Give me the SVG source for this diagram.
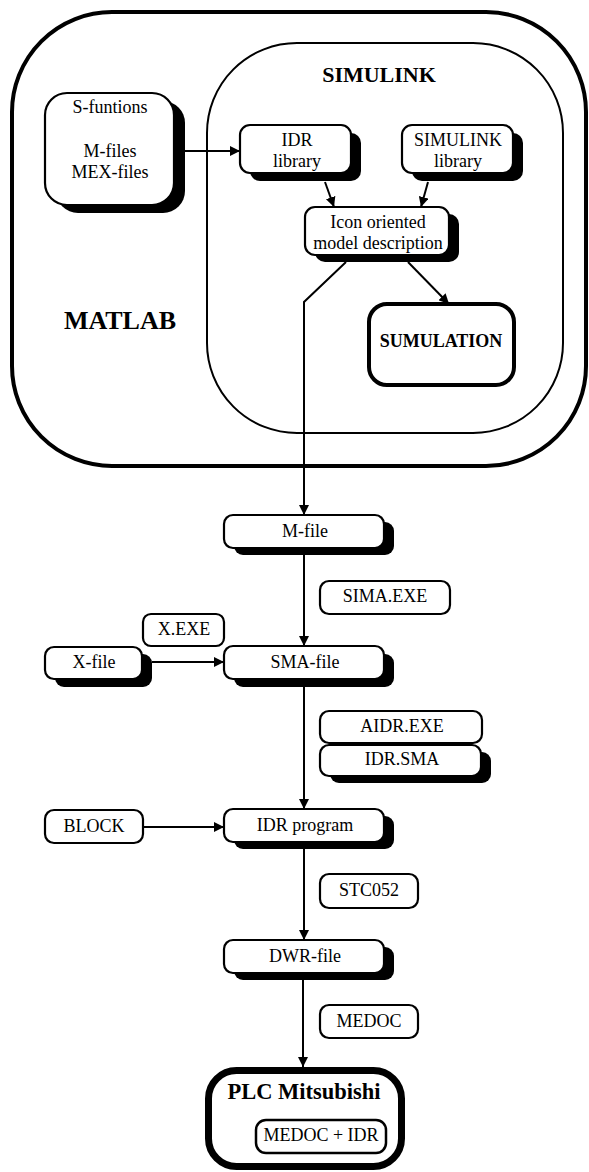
<svg xmlns="http://www.w3.org/2000/svg" width="589" height="1172" viewBox="0 0 589 1172" font-family="Liberation Serif, serif">
<style>
text{fill:#000;text-anchor:middle}
.t{font-size:18px}
.b{font-weight:bold}
.box{fill:#fff;stroke:#000;stroke-width:2.2}
.sh{fill:#000;stroke:none}
.con{fill:none;stroke:#000;stroke-width:2}
</style>
<defs>
<marker id="arr" viewBox="0 0 10 10" refX="10" refY="5" markerUnits="userSpaceOnUse" markerWidth="10" markerHeight="10" orient="auto">
<path d="M0,0 L10,5 L0,10 z" fill="#000"/>
</marker>
</defs>
<rect width="589" height="1172" fill="#fff"/>

<g id="matlab">
<rect x="12" y="12" width="574" height="454" rx="100" ry="100" fill="none" stroke="#000" stroke-width="4"/>
<text class="b" x="120" y="329" font-size="26" font-family="Liberation Serif">MATLAB</text>
</g>

<g id="simulink">
<rect x="207" y="43" width="356" height="390" rx="90" ry="90" fill="none" stroke="#000" stroke-width="2"/>
<text class="b" x="379" y="82" font-size="22">SIMULINK</text>
</g>

<g id="sfunctions">
<rect class="sh" x="56" y="101" width="129" height="112" rx="22"/>
<rect class="box" x="45" y="93" width="129" height="112" rx="22"/>
<text class="t" x="110" y="113">S-funtions</text>
<text class="t" x="110" y="157">M-files</text>
<text class="t" x="110" y="178">MEX-files</text>
</g>

<g id="idrlib">
<rect class="sh" x="250" y="133" width="111" height="48" rx="10"/>
<rect class="box" x="240" y="125" width="111" height="48" rx="10"/>
<text class="t" x="297" y="146">IDR</text>
<text class="t" x="297" y="167">library</text>
</g>

<g id="simlib">
<rect class="sh" x="412" y="133" width="111" height="48" rx="10"/>
<rect class="box" x="402" y="125" width="111" height="48" rx="10"/>
<text class="t" x="458" y="146">SIMULINK</text>
<text class="t" x="458" y="167">library</text>
</g>

<g id="icon">
<rect class="sh" x="315" y="214" width="144" height="48" rx="10"/>
<rect class="box" x="305" y="207" width="144" height="48" rx="10"/>
<text class="t" x="378" y="228">Icon oriented</text>
<text class="t" x="378" y="249">model description</text>
</g>

<g id="sumulation">
<rect x="369" y="304" width="145" height="81" rx="18" fill="#fff" stroke="#000" stroke-width="4"/>
<text class="b" x="441" y="347" font-size="18">SUMULATION</text>
</g>

<g id="mfile">
<rect class="sh" x="234" y="522" width="160" height="33" rx="9"/>
<rect class="box" x="224" y="515" width="160" height="33" rx="9"/>
<text class="t" x="305" y="537">M-file</text>
</g>

<g id="simaexe">
<rect class="box" x="320" y="581" width="130" height="33" rx="9"/>
<text class="t" x="385" y="602">SIMA.EXE</text>
</g>

<g id="xexe">
<rect class="box" x="143" y="614" width="81" height="32" rx="8"/>
<text class="t" x="184" y="635">X.EXE</text>
</g>

<g id="xfile">
<rect class="sh" x="55" y="654" width="97" height="33" rx="9"/>
<rect class="box" x="45" y="647" width="97" height="32" rx="9"/>
<text class="t" x="94" y="668">X-file</text>
</g>

<g id="smafile">
<rect class="sh" x="234" y="654" width="160" height="33" rx="9"/>
<rect class="box" x="224" y="646" width="160" height="33" rx="9"/>
<text class="t" x="305" y="668">SMA-file</text>
</g>

<g id="aidrexe">
<rect class="box" x="320" y="711" width="162" height="32" rx="9"/>
<text class="t" x="402" y="732">AIDR.EXE</text>
</g>

<g id="idrsma">
<rect class="sh" x="330" y="752" width="161" height="31" rx="9"/>
<rect class="box" x="320" y="745" width="161" height="31" rx="9"/>
<text class="t" x="402" y="765">IDR.SMA</text>
</g>

<g id="block">
<rect class="box" x="45" y="810" width="98" height="33" rx="9"/>
<text class="t" x="94" y="832">BLOCK</text>
</g>

<g id="idrprogram">
<rect class="sh" x="234" y="816" width="160" height="33" rx="9"/>
<rect class="box" x="224" y="809" width="160" height="33" rx="9"/>
<text class="t" x="305" y="831">IDR program</text>
</g>

<g id="stc052">
<rect class="box" x="320" y="874" width="98" height="34" rx="9"/>
<text class="t" x="369" y="896">STC052</text>
</g>

<g id="dwrfile">
<rect class="sh" x="234" y="947" width="160" height="33" rx="9"/>
<rect class="box" x="224" y="940" width="160" height="33" rx="9"/>
<text class="t" x="305" y="962">DWR-file</text>
</g>

<g id="medoc">
<rect class="box" x="320" y="1005" width="98" height="33" rx="9"/>
<text class="t" x="369" y="1027">MEDOC</text>
</g>

<g id="plc">
<rect x="208.5" y="1070.5" width="193" height="96" rx="28" fill="#fff" stroke="#000" stroke-width="7"/>
<text class="b" x="304" y="1099" font-size="22.5">PLC Mitsubishi</text>
<rect x="256" y="1120" width="130" height="33" rx="10" fill="#fff" stroke="#000" stroke-width="2.5"/>
<text class="t" x="321" y="1141">MEDOC + IDR</text>
</g>

<g id="connectors">
<path class="con" d="M185,151 H240" marker-end="url(#arr)"/>
<path class="con" d="M325,182 L334,207" marker-end="url(#arr)"/>
<path class="con" d="M428,182 L421,207" marker-end="url(#arr)"/>
<path class="con" d="M408,262 L449,304" marker-end="url(#arr)"/>
<path class="con" d="M346,262 L304,302 V515" marker-end="url(#arr)"/>
<path class="con" d="M304,555 V646" marker-end="url(#arr)"/>
<path class="con" d="M152,662 H224" marker-end="url(#arr)"/>
<path class="con" d="M304,687 V809" marker-end="url(#arr)"/>
<path class="con" d="M143,827 H224" marker-end="url(#arr)"/>
<path class="con" d="M304,849 V940" marker-end="url(#arr)"/>
<path class="con" d="M303,980 V1067" marker-end="url(#arr)"/>
</g>
</svg>
